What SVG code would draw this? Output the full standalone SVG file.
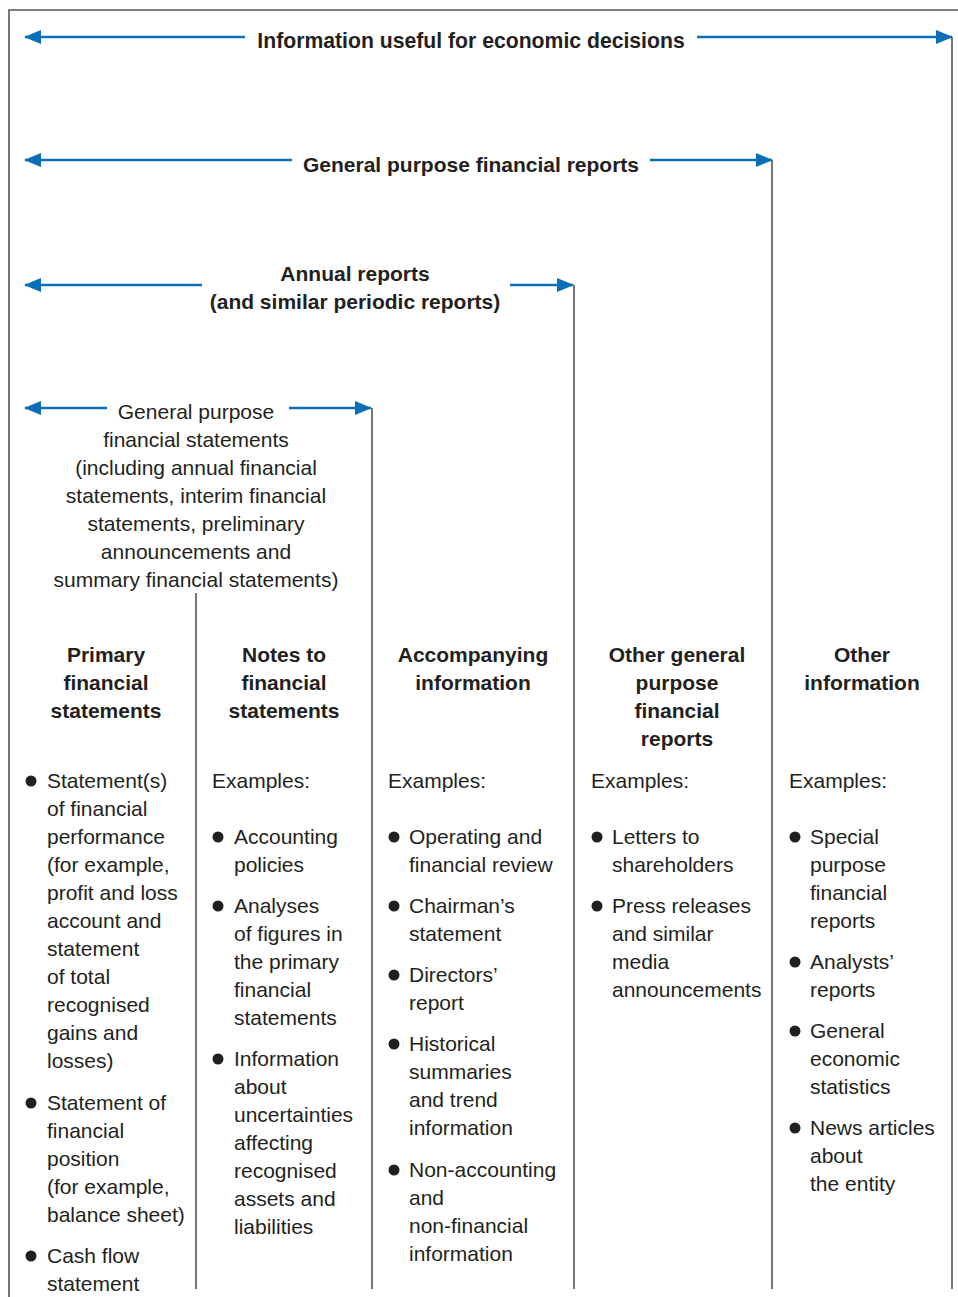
<svg xmlns="http://www.w3.org/2000/svg" width="958" height="1297" viewBox="0 0 958 1297">
<defs>
<marker id="ah" markerUnits="userSpaceOnUse" markerWidth="18" markerHeight="14" refX="16" refY="7" orient="auto-start-reverse">
<path d="M0,0 L17,7 L0,14 Z" fill="#0b6fb8"/>
</marker>
<style>
.arr{stroke:#0b6fb8;stroke-width:2.5;fill:none}
.ln{stroke:#555;stroke-width:1.6;fill:none}
text{font-family:"Liberation Sans",Arial,Helvetica,sans-serif;font-size:21px;fill:#231f20}
.b{font-weight:bold}
.c{text-anchor:middle}
.dot{fill:#231f20}
</style>
</defs>
<rect width="958" height="1297" fill="#fff"/>
<g id="frame">
<path class="ln" d="M9,1297 V10 H958"/>
</g>
<g id="connectors">
<line class="arr" x1="25" y1="37" x2="245" y2="37" marker-start="url(#ah)"/>
<line class="arr" x1="697" y1="37" x2="952" y2="37" marker-end="url(#ah)"/>
<line class="arr" x1="25" y1="160" x2="292" y2="160" marker-start="url(#ah)"/>
<line class="arr" x1="650" y1="160" x2="772" y2="160" marker-end="url(#ah)"/>
<line class="arr" x1="25" y1="285" x2="202" y2="285" marker-start="url(#ah)"/>
<line class="arr" x1="510" y1="285" x2="573" y2="285" marker-end="url(#ah)"/>
<line class="arr" x1="25" y1="408" x2="107" y2="408" marker-start="url(#ah)"/>
<line class="arr" x1="289" y1="408" x2="371" y2="408" marker-end="url(#ah)"/>
<line class="ln" x1="952" y1="37" x2="952" y2="1289"/>
<line class="ln" x1="772" y1="160" x2="772" y2="1289"/>
<line class="ln" x1="574" y1="285" x2="574" y2="1289"/>
<line class="ln" x1="372" y1="408" x2="372" y2="1289"/>
<line class="ln" x1="196" y1="593" x2="196" y2="1289"/>
</g>
<g id="info-useful">
<text class="b c" x="471" y="48" style="font-size:21.2px">Information useful for economic decisions</text>
</g>
<g id="gp-reports">
<text class="b c" x="471" y="172">General purpose financial reports</text>
</g>
<g id="annual-reports">
<text class="b c" x="355" y="281">Annual reports</text>
<text class="b c" x="355" y="309">(and similar periodic reports)</text>
</g>
<g id="gp-statements">
<text class="c" x="196" y="419">General purpose</text>
<text class="c" x="196" y="447">financial statements</text>
<text class="c" x="196" y="475">(including annual financial</text>
<text class="c" x="196" y="503">statements, interim financial</text>
<text class="c" x="196" y="531">statements, preliminary</text>
<text class="c" x="196" y="559">announcements and</text>
<text class="c" x="196" y="587">summary financial statements)</text>
</g>
<g id="primary">
<text class="b c" x="106" y="662">Primary</text>
<text class="b c" x="106" y="690">financial</text>
<text class="b c" x="106" y="718">statements</text>
<circle class="dot" cx="31" cy="781" r="5.5"/>
<text x="47" y="788">Statement(s)</text>
<text x="47" y="816">of financial</text>
<text x="47" y="844">performance</text>
<text x="47" y="872">(for example,</text>
<text x="47" y="900">profit and loss</text>
<text x="47" y="928">account and</text>
<text x="47" y="956">statement</text>
<text x="47" y="984">of total</text>
<text x="47" y="1012">recognised</text>
<text x="47" y="1040">gains and</text>
<text x="47" y="1068">losses)</text>
<circle class="dot" cx="31" cy="1103" r="5.5"/>
<text x="47" y="1110">Statement of</text>
<text x="47" y="1138">financial</text>
<text x="47" y="1166">position</text>
<text x="47" y="1194">(for example,</text>
<text x="47" y="1222">balance sheet)</text>
<circle class="dot" cx="31" cy="1256" r="5.5"/>
<text x="47" y="1263">Cash flow</text>
<text x="47" y="1291">statement</text>
</g>
<g id="notes">
<text class="b c" x="284" y="662">Notes to</text>
<text class="b c" x="284" y="690">financial</text>
<text class="b c" x="284" y="718">statements</text>
<text x="212" y="788">Examples:</text>
<circle class="dot" cx="218" cy="837" r="5.5"/>
<text x="234" y="844">Accounting</text>
<text x="234" y="872">policies</text>
<circle class="dot" cx="218" cy="906" r="5.5"/>
<text x="234" y="913">Analyses</text>
<text x="234" y="941">of figures in</text>
<text x="234" y="969">the primary</text>
<text x="234" y="997">financial</text>
<text x="234" y="1025">statements</text>
<circle class="dot" cx="218" cy="1059" r="5.5"/>
<text x="234" y="1066">Information</text>
<text x="234" y="1094">about</text>
<text x="234" y="1122">uncertainties</text>
<text x="234" y="1150">affecting</text>
<text x="234" y="1178">recognised</text>
<text x="234" y="1206">assets and</text>
<text x="234" y="1234">liabilities</text>
</g>
<g id="accompanying">
<text class="b c" x="473" y="662">Accompanying</text>
<text class="b c" x="473" y="690">information</text>
<text x="388" y="788">Examples:</text>
<circle class="dot" cx="394" cy="837" r="5.5"/>
<text x="409" y="844">Operating and</text>
<text x="409" y="872">financial review</text>
<circle class="dot" cx="394" cy="906" r="5.5"/>
<text x="409" y="913">Chairman’s</text>
<text x="409" y="941">statement</text>
<circle class="dot" cx="394" cy="975" r="5.5"/>
<text x="409" y="982">Directors’</text>
<text x="409" y="1010">report</text>
<circle class="dot" cx="394" cy="1044" r="5.5"/>
<text x="409" y="1051">Historical</text>
<text x="409" y="1079">summaries</text>
<text x="409" y="1107">and trend</text>
<text x="409" y="1135">information</text>
<circle class="dot" cx="394" cy="1170" r="5.5"/>
<text x="409" y="1177">Non-accounting</text>
<text x="409" y="1205">and</text>
<text x="409" y="1233">non-financial</text>
<text x="409" y="1261">information</text>
</g>
<g id="other-gp">
<text class="b c" x="677" y="662">Other general</text>
<text class="b c" x="677" y="690">purpose</text>
<text class="b c" x="677" y="718">financial</text>
<text class="b c" x="677" y="746">reports</text>
<text x="591" y="788">Examples:</text>
<circle class="dot" cx="597" cy="837" r="5.5"/>
<text x="612" y="844">Letters to</text>
<text x="612" y="872">shareholders</text>
<circle class="dot" cx="597" cy="906" r="5.5"/>
<text x="612" y="913">Press releases</text>
<text x="612" y="941">and similar</text>
<text x="612" y="969">media</text>
<text x="612" y="997">announcements</text>
</g>
<g id="other-info">
<text class="b c" x="862" y="662">Other</text>
<text class="b c" x="862" y="690">information</text>
<text x="789" y="788">Examples:</text>
<circle class="dot" cx="795" cy="837" r="5.5"/>
<text x="810" y="844">Special</text>
<text x="810" y="872">purpose</text>
<text x="810" y="900">financial</text>
<text x="810" y="928">reports</text>
<circle class="dot" cx="795" cy="962" r="5.5"/>
<text x="810" y="969">Analysts’</text>
<text x="810" y="997">reports</text>
<circle class="dot" cx="795" cy="1031" r="5.5"/>
<text x="810" y="1038">General</text>
<text x="810" y="1066">economic</text>
<text x="810" y="1094">statistics</text>
<circle class="dot" cx="795" cy="1128" r="5.5"/>
<text x="810" y="1135">News articles</text>
<text x="810" y="1163">about</text>
<text x="810" y="1191">the entity</text>
</g>
</svg>
